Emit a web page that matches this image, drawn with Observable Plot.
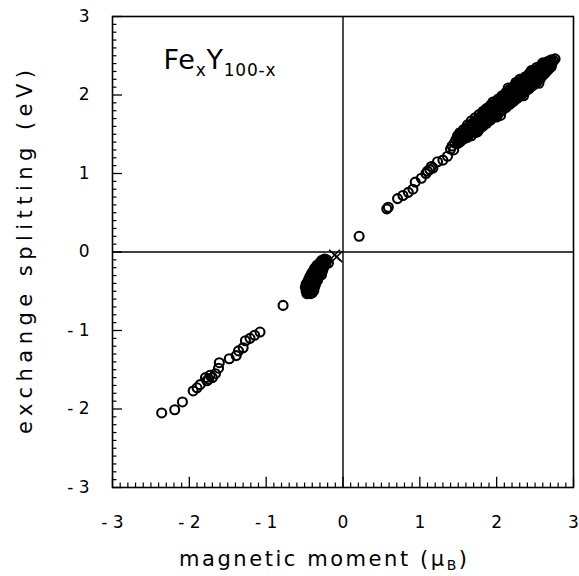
<!DOCTYPE html>
<html><head><meta charset="utf-8">
<script src="https://cdn.jsdelivr.net/npm/d3@7"></script>
<script src="https://cdn.jsdelivr.net/npm/@observablehq/plot@0.6"></script>
<style>
body{margin:0;background:#fff}
svg text{font-family:"DejaVu Sans",sans-serif}
</style>
</head><body><div id="chart"></div><script>
// open circles, lower part of positive branch
const posBranch = [
  [0.21,0.20],[0.57,0.55],[0.59,0.57],[0.71,0.68],[0.78,0.72],[0.85,0.76],[0.91,0.80],
  [0.94,0.89],[1.02,0.94],[1.08,1.00],[1.10,1.03],[1.13,1.05],[1.15,1.09],[1.17,1.07],
  [1.23,1.15],[1.30,1.17],[1.36,1.22],[1.40,1.31],[1.42,1.35],[1.44,1.30]
];
// dense band of the positive branch (heavily overlapping markers)
const posBand = [
  [1.45,1.39],[1.47,1.43],[1.50,1.46],[1.51,1.41],[1.54,1.44],[1.55,1.50],
  [1.58,1.47],[1.58,1.53],[1.60,1.50],[1.63,1.50],[1.63,1.58],[1.65,1.55],
  [1.68,1.53],[1.68,1.62],[1.70,1.58],[1.72,1.55],[1.73,1.66],[1.74,1.61],
  [1.76,1.58],[1.77,1.70],[1.78,1.64],[1.80,1.61],[1.81,1.74],[1.82,1.68],
  [1.84,1.64],[1.85,1.78],[1.86,1.71],[1.88,1.67],[1.89,1.81],[1.90,1.75],
  [1.92,1.70],[1.93,1.85],[1.94,1.78],[1.96,1.73],[1.97,1.88],[1.98,1.81],
  [2.00,1.76],[2.01,1.92],[2.02,1.84],[2.04,1.79],[2.05,1.95],[2.06,1.87],
  [2.08,1.82],[2.09,1.99],[2.10,1.90],[2.12,1.85],[2.13,2.02],[2.14,1.94],
  [2.16,1.88],[2.17,2.05],[2.18,1.97],[2.20,1.91],[2.21,2.09],[2.22,2.00],
  [2.24,1.94],[2.25,2.12],[2.26,2.03],[2.28,1.97],[2.29,2.15],[2.30,2.06],
  [2.32,2.00],[2.33,2.18],[2.34,2.10],[2.36,2.04],[2.37,2.21],[2.38,2.13],
  [2.40,2.07],[2.41,2.24],[2.42,2.16],[2.44,2.10],[2.45,2.27],[2.46,2.19],
  [2.48,2.14],[2.49,2.30],[2.50,2.22],[2.52,2.17],[2.53,2.33],[2.54,2.25],
  [2.56,2.21],[2.57,2.35],[2.58,2.28],[2.60,2.25],[2.61,2.38],[2.62,2.31],
  [2.64,2.29],[2.65,2.40],[2.66,2.35],[2.68,2.34],[2.70,2.42],
  [2.72,2.40],[2.74,2.44],[2.76,2.46],
  [1.49,1.38],[1.49,1.48],[1.53,1.41],[1.53,1.51],[1.57,1.45],[1.57,1.55],
  [1.61,1.48],[1.61,1.58],[1.65,1.51],[1.65,1.61],[1.69,1.54],[1.69,1.64],
  [1.73,1.57],[1.73,1.67],[1.77,1.61],[1.77,1.71],[1.81,1.64],[1.81,1.74],
  [1.85,1.67],[1.85,1.77],[1.89,1.70],[1.89,1.80],[1.93,1.73],[1.93,1.83],
  [1.97,1.77],[1.97,1.87],[2.01,1.80],[2.01,1.90],[2.05,1.83],[2.05,1.93],
  [2.09,1.86],[2.09,1.96],[2.13,1.89],[2.13,1.99],[2.17,1.93],[2.17,2.03],
  [2.21,1.96],[2.21,2.06],[2.25,1.99],[2.25,2.09],[2.29,2.02],[2.29,2.12],
  [2.33,2.05],[2.33,2.15],[2.37,2.09],[2.37,2.19],[2.41,2.12],[2.41,2.22],
  [2.45,2.15],[2.45,2.25],[2.49,2.18],[2.49,2.28],[2.53,2.21],[2.53,2.31],
  [2.57,2.25],[2.57,2.34],[2.61,2.28],[2.61,2.37],[2.65,2.32],[2.65,2.39],
  [2.69,2.36],[2.69,2.41],
  [1.75,1.53],[1.95,1.91],[2.05,1.74],[2.25,2.16],[2.35,1.99],[2.45,2.31],
  [2.15,2.09],[1.85,1.81],[2.55,2.15],[2.60,2.41],[2.00,1.72],[2.30,2.20],
  [1.52,1.40],[1.52,1.43],[1.52,1.48],[1.52,1.52],[1.57,1.44],[1.57,1.47],[1.57,1.52],[1.57,1.56],
  [1.62,1.46],[1.62,1.51],[1.62,1.56],[1.62,1.62],[1.67,1.48],[1.67,1.55],[1.67,1.60],[1.67,1.67],
  [1.72,1.52],[1.72,1.59],[1.72,1.64],[1.72,1.71],[1.77,1.56],[1.77,1.63],[1.77,1.68],[1.77,1.75],
  [1.82,1.60],[1.82,1.67],[1.82,1.72],[1.82,1.79],[1.87,1.64],[1.87,1.71],[1.87,1.76],[1.87,1.83],
  [1.92,1.68],[1.92,1.75],[1.92,1.80],[1.92,1.87],[1.97,1.72],[1.97,1.79],[1.97,1.84],[1.97,1.91],
  [2.02,1.76],[2.02,1.83],[2.02,1.88],[2.02,1.95],[2.07,1.80],[2.07,1.87],[2.07,1.92],[2.07,1.99],
  [2.12,1.84],[2.12,1.91],[2.12,1.96],[2.12,2.03],[2.17,1.88],[2.17,1.95],[2.17,2.00],[2.17,2.07],
  [2.22,1.92],[2.22,1.99],[2.22,2.04],[2.22,2.11],[2.27,1.96],[2.27,2.03],[2.27,2.08],[2.27,2.15],
  [2.32,2.00],[2.32,2.07],[2.32,2.12],[2.32,2.19],[2.37,2.04],[2.37,2.11],[2.37,2.16],[2.37,2.23],
  [2.42,2.08],[2.42,2.15],[2.42,2.20],[2.42,2.27],[2.47,2.12],[2.47,2.19],[2.47,2.24],[2.47,2.31],
  [2.52,2.16],[2.52,2.23],[2.52,2.28],[2.52,2.35],[2.57,2.21],[2.57,2.27],[2.57,2.32],[2.57,2.37],
  [2.62,2.27],[2.62,2.31],[2.62,2.36],[2.62,2.40],[2.67,2.32],[2.67,2.35],[2.67,2.40],[2.67,2.43],
  [2.71,2.36],[2.71,2.39],[2.71,2.43],[2.71,2.45]
];
// open circles, negative branch
const negBranch = [
  [-0.78,-0.68],[-1.08,-1.02],[-1.15,-1.06],[-1.21,-1.10],[-1.27,-1.13],[-1.30,-1.22],
  [-1.36,-1.26],[-1.39,-1.32],[-1.48,-1.36],[-1.61,-1.41],[-1.62,-1.48],[-1.66,-1.55],
  [-1.70,-1.60],[-1.73,-1.57],[-1.75,-1.62],[-1.77,-1.64],[-1.79,-1.60],[-1.86,-1.69],
  [-1.90,-1.73],[-1.95,-1.77],[-2.09,-1.91],[-2.19,-2.01],[-2.36,-2.05]
];
// dense cluster near the origin
const negCluster = [
  [-0.45,-0.48],[-0.43,-0.50],[-0.47,-0.44],[-0.44,-0.42],[-0.41,-0.46],[-0.46,-0.38],
  [-0.42,-0.38],[-0.39,-0.42],[-0.44,-0.34],[-0.40,-0.33],[-0.37,-0.37],[-0.41,-0.28],
  [-0.37,-0.29],[-0.34,-0.33],[-0.38,-0.24],[-0.34,-0.25],[-0.31,-0.28],[-0.35,-0.20],
  [-0.31,-0.20],[-0.28,-0.23],[-0.31,-0.15],[-0.27,-0.16],[-0.25,-0.19],[-0.28,-0.11],
  [-0.24,-0.12],[-0.36,-0.42],[-0.48,-0.50],[-0.40,-0.52],[-0.21,-0.10],[-0.19,-0.14],
  [-0.46,-0.46],[-0.42,-0.44],[-0.44,-0.40],[-0.40,-0.40],[-0.42,-0.34],[-0.38,-0.35],
  [-0.39,-0.30],[-0.35,-0.30],[-0.36,-0.26],[-0.32,-0.24],[-0.33,-0.22],[-0.29,-0.19],
  [-0.30,-0.17],[-0.26,-0.14],[-0.43,-0.47],[-0.38,-0.46],[-0.47,-0.48],[-0.45,-0.52],
  [-0.48,-0.41],[-0.35,-0.38],[-0.32,-0.32],[-0.29,-0.27],[-0.26,-0.22],[-0.23,-0.16],
  [-0.44,-0.46],[-0.41,-0.49],[-0.45,-0.36],[-0.43,-0.31],[-0.39,-0.37],[-0.36,-0.33],
  [-0.40,-0.26],[-0.37,-0.21],[-0.33,-0.27],[-0.30,-0.25],[-0.34,-0.17],[-0.29,-0.13],
  [-0.26,-0.10],[-0.24,-0.09],[-0.22,-0.13],[-0.25,-0.15],[-0.49,-0.45],[-0.47,-0.53],
  [-0.42,-0.53],[-0.38,-0.49],[-0.37,-0.44],[-0.33,-0.36],[-0.31,-0.31],[-0.28,-0.29],
  [-0.27,-0.25]
];
// cross markers
const crosses = [[-0.08,-0.06],[-0.11,-0.04]];

const majorTicks = [-3,-2,-1,0,1,2,3];
const minorTicks = [-2.9,-2.8,-2.7,-2.6,-2.5,-2.4,-2.3,-2.2,-2.1,-1.9,-1.8,-1.7,-1.6,-1.5,-1.4,-1.3,-1.2,-1.1,
  -0.9,-0.8,-0.7,-0.6,-0.5,-0.4,-0.3,-0.2,-0.1,0.1,0.2,0.3,0.4,0.5,0.6,0.7,0.8,0.9,
  1.1,1.2,1.3,1.4,1.5,1.6,1.7,1.8,1.9,2.1,2.2,2.3,2.4,2.5,2.6,2.7,2.8,2.9];
const xLabel = "magnetic moment (μB)";
const yLabel = "exchange splitting (eV)";
const formula = "FexY100-x";

const fmt = d => d < 0 ? "- " + Math.abs(d) : String(d);
const circles = [...posBranch, ...posBand, ...negBranch, ...negCluster];

const chart = Plot.plot({
  width: 579, height: 576,
  marginLeft: 112, marginRight: 6, marginTop: 16, marginBottom: 89,
  style: {fontFamily: "DejaVu Sans, sans-serif", fontSize: "17px", background: "white", color: "black"},
  x: {domain: [-3, 3]},
  y: {domain: [-3, 3]},
  marks: [
    Plot.ruleX([0], {stroke: "black", strokeWidth: 1.4}),
    Plot.ruleY([0], {stroke: "black", strokeWidth: 1.4}),
    Plot.ruleX(minorTicks, {x: d => d, y1: -3, y2: -3 + 0.057, stroke: "black", strokeWidth: 1.2}),
    Plot.ruleX(majorTicks, {x: d => d, y1: -3, y2: -3 + 0.13, stroke: "black", strokeWidth: 1.3}),
    Plot.ruleY(minorTicks, {y: d => d, x1: -3, x2: -3 + 0.058, stroke: "black", strokeWidth: 1.2}),
    Plot.ruleY(majorTicks, {y: d => d, x1: -3, x2: -3 + 0.13, stroke: "black", strokeWidth: 1.3}),
    Plot.axisX(majorTicks, {tickSize: 0, tickPadding: 28, fontSize: 17, tickFormat: fmt, label: null}),
    Plot.axisY(majorTicks, {tickSize: 0, tickPadding: 23, fontSize: 17, tickFormat: fmt, label: null}),
    Plot.frame({stroke: "black", strokeWidth: 1.6}),
    Plot.dot(circles, {x: d => d[0], y: d => d[1], r: 4.5, stroke: "black", strokeWidth: 2.1, fill: "none"}),
    Plot.dot(crosses, {x: d => d[0], y: d => d[1], r: 5, symbol: "times", stroke: "black", strokeWidth: 1.5}),
    Plot.text([formula], {frameAnchor: "top-left", dx: 51, dy: 52, textAnchor: "start", lineAnchor: "bottom", fontSize: 27, fill: "black"}),
    Plot.text([xLabel], {frameAnchor: "bottom", dx: -20, dy: 78, textAnchor: "middle", lineAnchor: "bottom", fontSize: 21, fill: "black"}),
    Plot.text([yLabel], {frameAnchor: "left", dx: -81, rotate: -90, textAnchor: "middle", lineAnchor: "bottom", fontSize: 21, fill: "black"})
  ]
});
document.getElementById("chart").append(chart);

d3.select(chart).selectAll("text").each(function() {
  const t = d3.select(this);
  const s = this.textContent;
  if (s === formula) {
    t.text(null);
    t.append("tspan").text("Fe");
    t.append("tspan").attr("font-size", 17).attr("dy", 7).text("x");
    t.append("tspan").attr("dy", -7).text("Y");
    t.append("tspan").attr("font-size", 17).attr("dy", 7).text("100-x");
    t.attr("textLength", 112).attr("lengthAdjust", "spacing");
  } else if (s === xLabel) {
    t.text(null);
    t.append("tspan").text("magnetic moment (μ");
    t.append("tspan").attr("font-size", 14).attr("dy", 4).text("B");
    t.append("tspan").attr("dy", -4).text(")");
    t.attr("textLength", 288).attr("lengthAdjust", "spacing");
  } else if (s === yLabel) {
    t.attr("textLength", 364).attr("lengthAdjust", "spacing");
  }
});
</script></body></html>
